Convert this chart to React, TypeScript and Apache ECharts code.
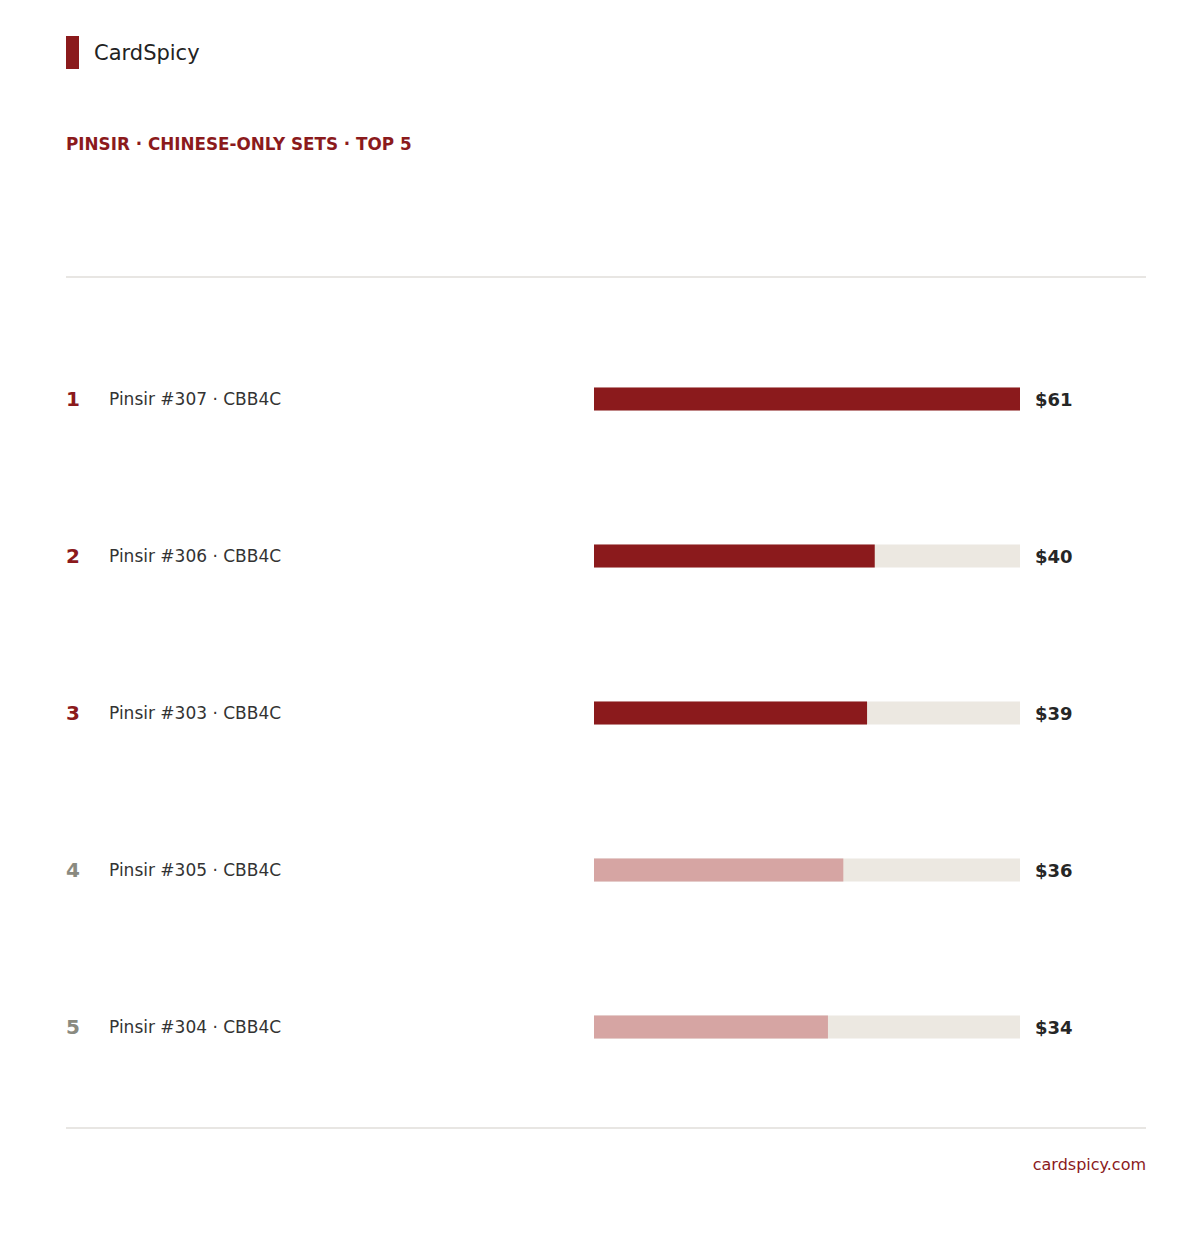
import React, { useEffect, useRef } from "react";
import * as echarts from "echarts";

const ranks = ["1", "2", "3", "4", "5"];
const cardNames = [
  "Pinsir #307 · CBB4C",
  "Pinsir #306 · CBB4C",
  "Pinsir #303 · CBB4C",
  "Pinsir #305 · CBB4C",
  "Pinsir #304 · CBB4C",
];
const prices = [61, 40.2, 39.1, 35.7, 33.5];
const priceLabels = ["$61", "$40", "$39", "$36", "$34"];

const DARK = "#8B1A1C";
const LIGHT = "#D6A5A3";
const FONT = "DejaVu Sans";

export default function App() {
  const ref = useRef<HTMLDivElement>(null);
  useEffect(() => {
    if (!ref.current) return;
    const chart = echarts.init(ref.current, null, { renderer: "svg" });
    const cats = ranks.map((r, i) => r + "|" + cardNames[i]);
    chart.setOption({
      animation: false,
      backgroundColor: "#ffffff",
      textStyle: { fontFamily: FONT },
      grid: { left: 594, right: 180, top: 320.5, bottom: 144.5, containLabel: false },
      xAxis: {
        type: "value",
        min: 0,
        max: 61,
        show: false,
      },
      yAxis: [
        {
          type: "category",
          inverse: true,
          data: cats,
          axisLine: { show: false },
          axisTick: { show: false },
          splitLine: { show: false },
          axisLabel: {
            align: "left",
            margin: 528,
            formatter: (v: string) => {
              const [r, n] = v.split("|");
              const idx = Number(r) - 1;
              return `{${idx < 3 ? "rd" : "rl"}|${r}}{nm|${n}}`;
            },
            rich: {
              rd: { fontFamily: FONT, fontSize: 20, fontWeight: "bold", color: DARK, width: 43 },
              rl: { fontFamily: FONT, fontSize: 20, fontWeight: "bold", color: "#8A8A80", width: 43 },
              nm: { fontFamily: FONT, fontSize: 17, color: "#333333" },
            },
          },
        },
        {
          type: "category",
          inverse: true,
          position: "right",
          data: priceLabels,
          axisLine: { show: false },
          axisTick: { show: false },
          splitLine: { show: false },
          axisLabel: {
            align: "left",
            margin: 15,
            fontFamily: FONT,
            fontSize: 18,
            fontWeight: "bold",
            color: "#262626",
          },
        },
      ],
      series: [
        {
          type: "bar",
          yAxisIndex: 0,
          data: prices.map((v, i) => ({
            value: v,
            itemStyle: { color: i < 3 ? DARK : LIGHT },
          })),
          barWidth: 23,
          showBackground: true,
          backgroundStyle: { color: "#ECE8E1" },
        },
      ],
      graphic: [
        { type: "rect", left: 66, top: 36, shape: { width: 13, height: 33 }, style: { fill: DARK } },
        {
          type: "text",
          left: 94,
          top: 42,
          style: { text: "CardSpicy", font: `21px "${FONT}"`, fill: "#222222" },
        },
        {
          type: "text",
          left: 66,
          top: 135,
          style: {
            text: "PINSIR · CHINESE-ONLY SETS · TOP 5",
            font: `bold 16.8px "${FONT}"`,
            fill: DARK,
          },
        },
        {
          type: "line",
          shape: { x1: 66, y1: 277, x2: 1146, y2: 277 },
          style: { stroke: "#E8E6E3", lineWidth: 2 },
        },
        {
          type: "line",
          shape: { x1: 66, y1: 1128, x2: 1146, y2: 1128 },
          style: { stroke: "#E8E6E3", lineWidth: 2 },
        },
        {
          type: "text",
          right: 54,
          top: 1156,
          style: { text: "cardspicy.com", font: `16px "${FONT}"`, fill: DARK },
        },
      ],
    });
    return () => chart.dispose();
  }, []);
  return (
    <div
      ref={ref}
      style={{ position: "absolute", left: 0, top: 0, width: 1200, height: 1250 }}
    />
  );
}
